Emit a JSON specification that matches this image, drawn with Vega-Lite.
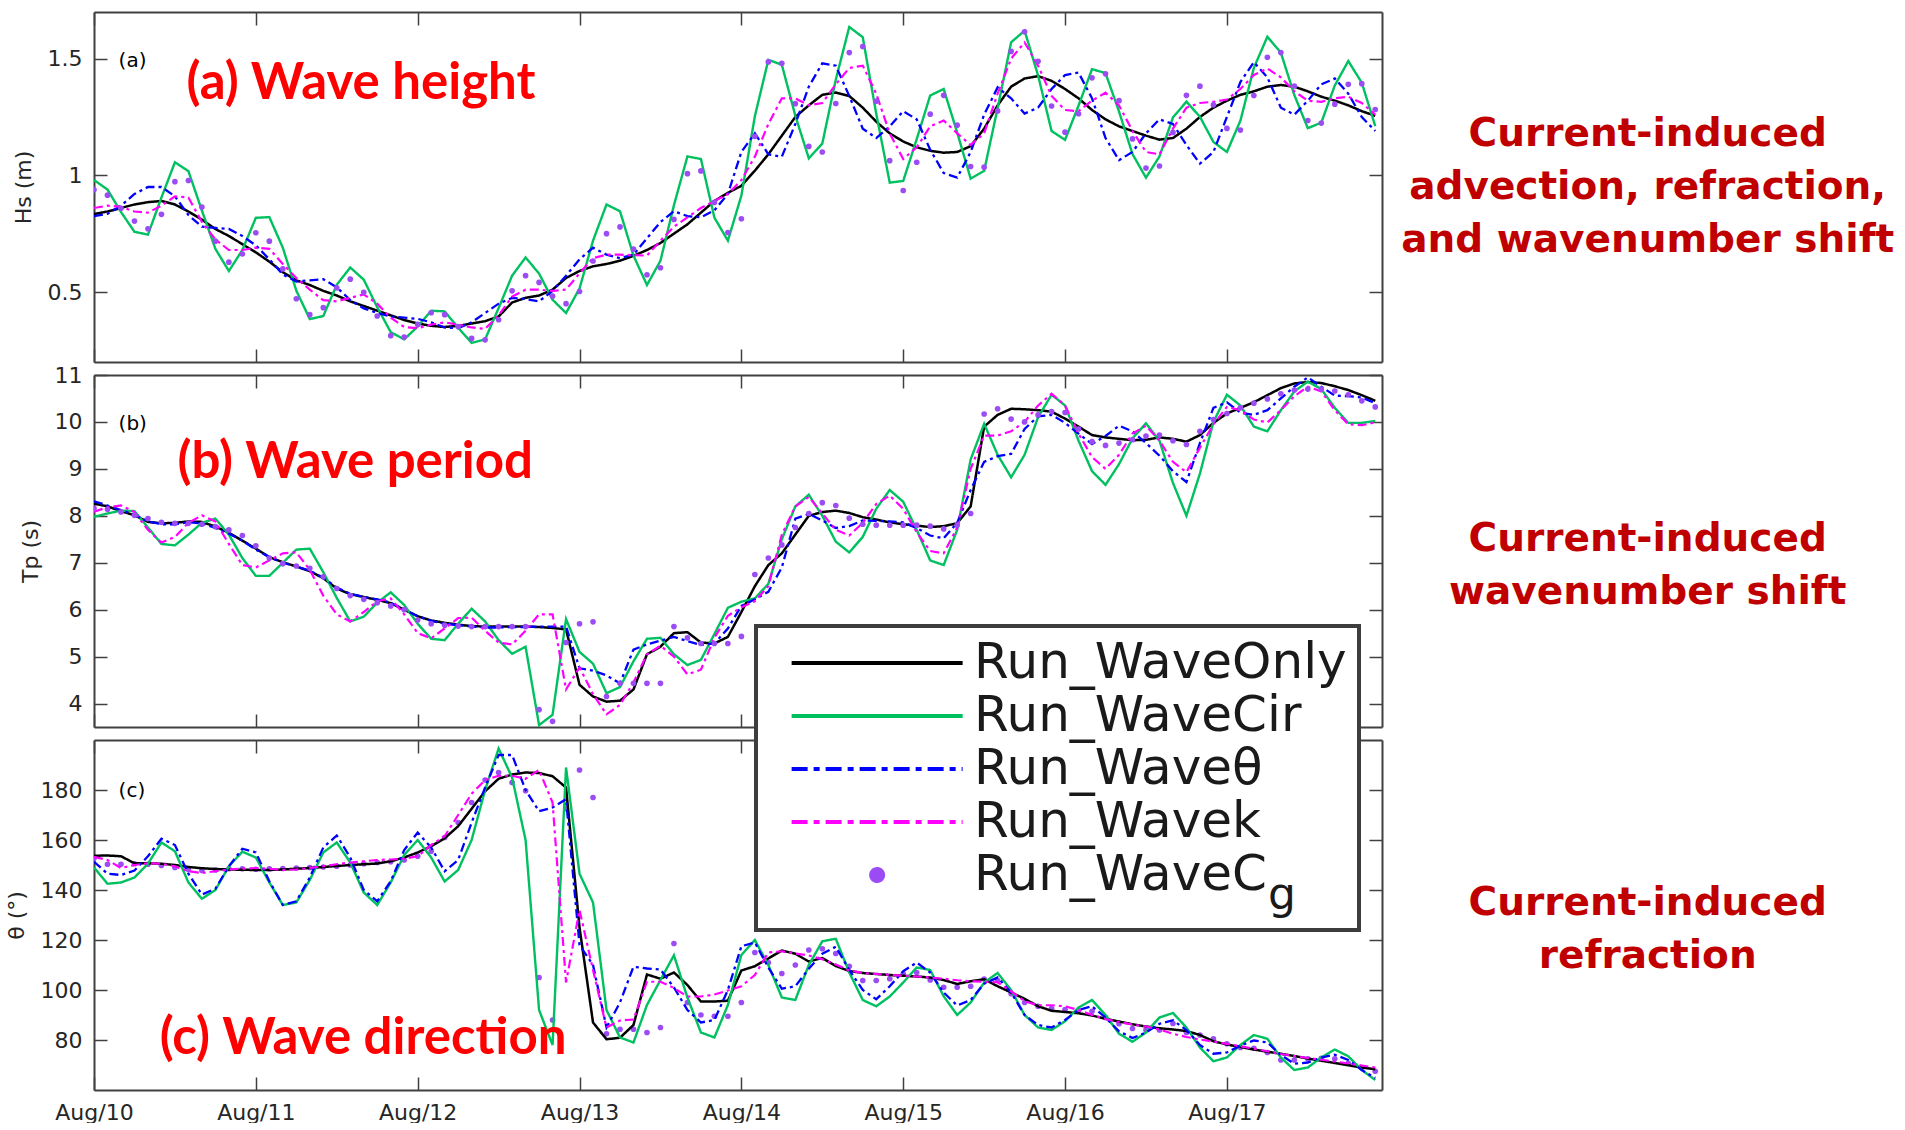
{
  "$schema": "https://vega.github.io/schema/vega-lite/v6.json",
  "background": "white",
  "autosize": {"type": "pad"},
  "padding": {"left": 5, "top": 11, "right": 0, "bottom": 0},
  "bounds": "flush",
  "spacing": 13,
  "config": {
    "view": {"stroke": null},
    "axis": {
      "domainColor": "#404040", "domainWidth": 2,
      "tickColor": "#404040", "tickWidth": 1.5, "tickSize": -13,
      "labelFont": "DejaVu Sans", "labelFontSize": 22, "labelColor": "#262626", "labelPadding": 25, "labelFlush": false,
      "titleFont": "DejaVu Sans", "titleFontSize": 22, "titleColor": "#262626", "titleFontWeight": "normal", "titlePadding": 12,
      "grid": false
    }
  },
  "resolve": {
    "scale": {"color": "independent", "strokeDash": "independent", "strokeWidth": "independent"},
    "legend": {"color": "independent", "strokeDash": "independent", "strokeWidth": "independent"}
  },
  "datasets": {
    "hs": [
      {"t":"2017-08-10T00:00","only":0.834,"cir":0.98,"theta":0.825,"k":0.86,"cg":0.938},
      {"t":"2017-08-10T02:00","only":0.845,"cir":0.939,"theta":0.835,"k":0.87,"cg":0.915},
      {"t":"2017-08-10T04:00","only":0.86,"cir":0.843,"theta":0.87,"k":0.865,"cg":0.859},
      {"t":"2017-08-10T06:00","only":0.875,"cir":0.758,"theta":0.92,"k":0.845,"cg":0.804},
      {"t":"2017-08-10T08:00","only":0.885,"cir":0.746,"theta":0.95,"k":0.84,"cg":0.771},
      {"t":"2017-08-10T10:00","only":0.89,"cir":0.905,"theta":0.95,"k":0.87,"cg":0.833},
      {"t":"2017-08-10T12:00","only":0.875,"cir":1.056,"theta":0.91,"k":0.91,"cg":0.973},
      {"t":"2017-08-10T14:00","only":0.845,"cir":1.018,"theta":0.83,"k":0.905,"cg":0.978},
      {"t":"2017-08-10T16:00","only":0.81,"cir":0.849,"theta":0.78,"k":0.8,"cg":0.864},
      {"t":"2017-08-10T18:00","only":0.77,"cir":0.685,"theta":0.775,"k":0.725,"cg":0.718},
      {"t":"2017-08-10T20:00","only":0.74,"cir":0.59,"theta":0.77,"k":0.68,"cg":0.628},
      {"t":"2017-08-10T22:00","only":0.705,"cir":0.68,"theta":0.74,"k":0.68,"cg":0.663},
      {"t":"2017-08-11T00:00","only":0.67,"cir":0.818,"theta":0.7,"k":0.69,"cg":0.754},
      {"t":"2017-08-11T02:00","only":0.63,"cir":0.821,"theta":0.64,"k":0.685,"cg":0.718},
      {"t":"2017-08-11T04:00","only":0.585,"cir":0.69,"theta":0.575,"k":0.62,"cg":0.599},
      {"t":"2017-08-11T06:00","only":0.55,"cir":0.506,"theta":0.545,"k":0.56,"cg":0.471},
      {"t":"2017-08-11T08:00","only":0.53,"cir":0.384,"theta":0.55,"k":0.51,"cg":0.403},
      {"t":"2017-08-11T10:00","only":0.505,"cir":0.397,"theta":0.555,"k":0.465,"cg":0.433},
      {"t":"2017-08-11T12:00","only":0.485,"cir":0.531,"theta":0.52,"k":0.46,"cg":0.518},
      {"t":"2017-08-11T14:00","only":0.46,"cir":0.605,"theta":0.465,"k":0.475,"cg":0.555},
      {"t":"2017-08-11T16:00","only":0.44,"cir":0.553,"theta":0.43,"k":0.49,"cg":0.499},
      {"t":"2017-08-11T18:00","only":0.42,"cir":0.435,"theta":0.41,"k":0.45,"cg":0.397},
      {"t":"2017-08-11T20:00","only":0.4,"cir":0.328,"theta":0.395,"k":0.39,"cg":0.313},
      {"t":"2017-08-11T22:00","only":0.38,"cir":0.297,"theta":0.39,"k":0.35,"cg":0.307},
      {"t":"2017-08-12T00:00","only":0.365,"cir":0.352,"theta":0.385,"k":0.345,"cg":0.361},
      {"t":"2017-08-12T02:00","only":0.355,"cir":0.42,"theta":0.37,"k":0.36,"cg":0.411},
      {"t":"2017-08-12T04:00","only":0.35,"cir":0.417,"theta":0.348,"k":0.37,"cg":0.403},
      {"t":"2017-08-12T06:00","only":0.355,"cir":0.347,"theta":0.345,"k":0.36,"cg":0.352},
      {"t":"2017-08-12T08:00","only":0.365,"cir":0.282,"theta":0.37,"k":0.348,"cg":0.301},
      {"t":"2017-08-12T10:00","only":0.375,"cir":0.297,"theta":0.41,"k":0.342,"cg":0.295},
      {"t":"2017-08-12T12:00","only":0.395,"cir":0.431,"theta":0.45,"k":0.4,"cg":0.381},
      {"t":"2017-08-12T14:00","only":0.455,"cir":0.57,"theta":0.475,"k":0.48,"cg":0.505},
      {"t":"2017-08-12T16:00","only":0.475,"cir":0.648,"theta":0.47,"k":0.51,"cg":0.57},
      {"t":"2017-08-12T18:00","only":0.485,"cir":0.579,"theta":0.46,"k":0.51,"cg":0.541},
      {"t":"2017-08-12T20:00","only":0.51,"cir":0.467,"theta":0.505,"k":0.505,"cg":0.482},
      {"t":"2017-08-12T22:00","only":0.56,"cir":0.41,"theta":0.57,"k":0.51,"cg":0.45},
      {"t":"2017-08-13T00:00","only":0.59,"cir":0.515,"theta":0.64,"k":0.58,"cg":0.502},
      {"t":"2017-08-13T02:00","only":0.61,"cir":0.72,"theta":0.69,"k":0.645,"cg":0.633},
      {"t":"2017-08-13T04:00","only":0.62,"cir":0.875,"theta":0.66,"k":0.66,"cg":0.75},
      {"t":"2017-08-13T06:00","only":0.634,"cir":0.846,"theta":0.645,"k":0.66,"cg":0.779},
      {"t":"2017-08-13T08:00","only":0.655,"cir":0.656,"theta":0.66,"k":0.658,"cg":0.684},
      {"t":"2017-08-13T10:00","only":0.68,"cir":0.53,"theta":0.73,"k":0.656,"cg":0.574},
      {"t":"2017-08-13T12:00","only":0.71,"cir":0.634,"theta":0.8,"k":0.72,"cg":0.604},
      {"t":"2017-08-13T14:00","only":0.75,"cir":0.872,"theta":0.846,"k":0.78,"cg":0.811},
      {"t":"2017-08-13T16:00","only":0.79,"cir":1.081,"theta":0.825,"k":0.82,"cg":1.007},
      {"t":"2017-08-13T18:00","only":0.84,"cir":1.07,"theta":0.82,"k":0.86,"cg":1.019},
      {"t":"2017-08-13T20:00","only":0.89,"cir":0.819,"theta":0.85,"k":0.89,"cg":0.884},
      {"t":"2017-08-13T22:00","only":0.925,"cir":0.72,"theta":0.92,"k":0.92,"cg":0.755},
      {"t":"2017-08-14T00:00","only":0.955,"cir":0.913,"theta":1.1,"k":0.98,"cg":0.814},
      {"t":"2017-08-14T02:00","only":1.02,"cir":1.253,"theta":1.18,"k":1.08,"cg":1.167},
      {"t":"2017-08-14T04:00","only":1.09,"cir":1.495,"theta":1.09,"k":1.22,"cg":1.486},
      {"t":"2017-08-14T06:00","only":1.17,"cir":1.474,"theta":1.08,"k":1.33,"cg":1.48},
      {"t":"2017-08-14T08:00","only":1.25,"cir":1.256,"theta":1.22,"k":1.33,"cg":1.307},
      {"t":"2017-08-14T10:00","only":1.3,"cir":1.073,"theta":1.38,"k":1.3,"cg":1.124},
      {"t":"2017-08-14T12:00","only":1.345,"cir":1.136,"theta":1.48,"k":1.31,"cg":1.1},
      {"t":"2017-08-14T14:00","only":1.355,"cir":1.41,"theta":1.47,"k":1.39,"cg":1.308},
      {"t":"2017-08-14T16:00","only":1.34,"cir":1.636,"theta":1.34,"k":1.46,"cg":1.526},
      {"t":"2017-08-14T18:00","only":1.29,"cir":1.592,"theta":1.2,"k":1.47,"cg":1.552},
      {"t":"2017-08-14T20:00","only":1.23,"cir":1.264,"theta":1.16,"k":1.35,"cg":1.318},
      {"t":"2017-08-14T22:00","only":1.18,"cir":0.969,"theta":1.21,"k":1.18,"cg":1.063},
      {"t":"2017-08-15T00:00","only":1.145,"cir":0.976,"theta":1.275,"k":1.07,"cg":0.935},
      {"t":"2017-08-15T02:00","only":1.12,"cir":1.155,"theta":1.24,"k":1.12,"cg":1.056},
      {"t":"2017-08-15T04:00","only":1.105,"cir":1.342,"theta":1.11,"k":1.21,"cg":1.262},
      {"t":"2017-08-15T06:00","only":1.097,"cir":1.37,"theta":1.01,"k":1.235,"cg":1.343},
      {"t":"2017-08-15T08:00","only":1.1,"cir":1.184,"theta":0.99,"k":1.18,"cg":1.215},
      {"t":"2017-08-15T10:00","only":1.125,"cir":0.986,"theta":1.1,"k":1.13,"cg":1.038},
      {"t":"2017-08-15T12:00","only":1.2,"cir":1.019,"theta":1.26,"k":1.18,"cg":1.035},
      {"t":"2017-08-15T14:00","only":1.3,"cir":1.288,"theta":1.377,"k":1.35,"cg":1.276},
      {"t":"2017-08-15T16:00","only":1.38,"cir":1.57,"theta":1.33,"k":1.5,"cg":1.531},
      {"t":"2017-08-15T18:00","only":1.415,"cir":1.62,"theta":1.265,"k":1.57,"cg":1.615},
      {"t":"2017-08-15T20:00","only":1.425,"cir":1.428,"theta":1.29,"k":1.47,"cg":1.489},
      {"t":"2017-08-15T22:00","only":1.405,"cir":1.19,"theta":1.37,"k":1.34,"cg":1.297},
      {"t":"2017-08-16T00:00","only":1.37,"cir":1.152,"theta":1.43,"k":1.28,"cg":1.185},
      {"t":"2017-08-16T02:00","only":1.33,"cir":1.299,"theta":1.44,"k":1.275,"cg":1.264},
      {"t":"2017-08-16T04:00","only":1.28,"cir":1.455,"theta":1.33,"k":1.32,"cg":1.418},
      {"t":"2017-08-16T06:00","only":1.24,"cir":1.438,"theta":1.16,"k":1.354,"cg":1.435},
      {"t":"2017-08-16T08:00","only":1.21,"cir":1.274,"theta":1.065,"k":1.3,"cg":1.32},
      {"t":"2017-08-16T10:00","only":1.19,"cir":1.091,"theta":1.1,"k":1.19,"cg":1.156},
      {"t":"2017-08-16T12:00","only":1.17,"cir":0.99,"theta":1.18,"k":1.1,"cg":1.031},
      {"t":"2017-08-16T14:00","only":1.153,"cir":1.081,"theta":1.24,"k":1.09,"cg":1.04},
      {"t":"2017-08-16T16:00","only":1.16,"cir":1.248,"theta":1.22,"k":1.2,"cg":1.184},
      {"t":"2017-08-16T18:00","only":1.2,"cir":1.316,"theta":1.13,"k":1.29,"cg":1.343},
      {"t":"2017-08-16T20:00","only":1.25,"cir":1.251,"theta":1.05,"k":1.31,"cg":1.382},
      {"t":"2017-08-16T22:00","only":1.29,"cir":1.143,"theta":1.1,"k":1.315,"cg":1.302},
      {"t":"2017-08-17T00:00","only":1.32,"cir":1.1,"theta":1.25,"k":1.325,"cg":1.201},
      {"t":"2017-08-17T02:00","only":1.345,"cir":1.234,"theta":1.4,"k":1.37,"cg":1.194},
      {"t":"2017-08-17T04:00","only":1.36,"cir":1.461,"theta":1.485,"k":1.43,"cg":1.342},
      {"t":"2017-08-17T06:00","only":1.38,"cir":1.594,"theta":1.42,"k":1.458,"cg":1.506},
      {"t":"2017-08-17T08:00","only":1.387,"cir":1.526,"theta":1.29,"k":1.42,"cg":1.526},
      {"t":"2017-08-17T10:00","only":1.38,"cir":1.344,"theta":1.26,"k":1.36,"cg":1.383},
      {"t":"2017-08-17T12:00","only":1.36,"cir":1.202,"theta":1.32,"k":1.32,"cg":1.235},
      {"t":"2017-08-17T14:00","only":1.337,"cir":1.226,"theta":1.39,"k":1.315,"cg":1.224},
      {"t":"2017-08-17T16:00","only":1.32,"cir":1.385,"theta":1.415,"k":1.33,"cg":1.305},
      {"t":"2017-08-17T18:00","only":1.3,"cir":1.49,"theta":1.35,"k":1.337,"cg":1.39},
      {"t":"2017-08-17T20:00","only":1.275,"cir":1.397,"theta":1.25,"k":1.31,"cg":1.393},
      {"t":"2017-08-17T22:00","only":1.255,"cir":1.211,"theta":1.19,"k":1.26,"cg":1.282}
    ],
    "tp": [
      {"t":"2017-08-10T00:00","only":8.26,"cir":7.98,"theta":8.31,"k":8.09,"cg":8.16},
      {"t":"2017-08-10T02:00","only":8.2,"cir":8.05,"theta":8.22,"k":8.18,"cg":8.14},
      {"t":"2017-08-10T04:00","only":8.1,"cir":8.11,"theta":8.12,"k":8.22,"cg":8.08},
      {"t":"2017-08-10T06:00","only":8.01,"cir":8.1,"theta":8.02,"k":8.08,"cg":8.01},
      {"t":"2017-08-10T08:00","only":7.87,"cir":7.75,"theta":7.88,"k":7.7,"cg":7.94},
      {"t":"2017-08-10T10:00","only":7.84,"cir":7.4,"theta":7.82,"k":7.43,"cg":7.86},
      {"t":"2017-08-10T12:00","only":7.85,"cir":7.37,"theta":7.82,"k":7.55,"cg":7.84},
      {"t":"2017-08-10T14:00","only":7.88,"cir":7.6,"theta":7.86,"k":7.85,"cg":7.84},
      {"t":"2017-08-10T16:00","only":7.87,"cir":7.85,"theta":7.84,"k":8.01,"cg":7.82},
      {"t":"2017-08-10T18:00","only":7.77,"cir":7.94,"theta":7.74,"k":7.88,"cg":7.77},
      {"t":"2017-08-10T20:00","only":7.64,"cir":7.6,"theta":7.62,"k":7.4,"cg":7.7},
      {"t":"2017-08-10T22:00","only":7.47,"cir":7.1,"theta":7.47,"k":6.95,"cg":7.58},
      {"t":"2017-08-11T00:00","only":7.3,"cir":6.72,"theta":7.28,"k":6.9,"cg":7.36},
      {"t":"2017-08-11T02:00","only":7.12,"cir":6.72,"theta":7.12,"k":7.05,"cg":7.1},
      {"t":"2017-08-11T04:00","only":7.01,"cir":7.0,"theta":7.0,"k":7.2,"cg":6.98},
      {"t":"2017-08-11T06:00","only":6.92,"cir":7.28,"theta":6.92,"k":7.22,"cg":6.93},
      {"t":"2017-08-11T08:00","only":6.82,"cir":7.3,"theta":6.83,"k":6.85,"cg":6.88},
      {"t":"2017-08-11T10:00","only":6.67,"cir":6.8,"theta":6.68,"k":6.3,"cg":6.7},
      {"t":"2017-08-11T12:00","only":6.45,"cir":6.25,"theta":6.47,"k":5.9,"cg":6.45},
      {"t":"2017-08-11T14:00","only":6.33,"cir":5.75,"theta":6.34,"k":5.75,"cg":6.3},
      {"t":"2017-08-11T16:00","only":6.27,"cir":5.85,"theta":6.27,"k":5.95,"cg":6.22},
      {"t":"2017-08-11T18:00","only":6.21,"cir":6.15,"theta":6.22,"k":6.18,"cg":6.15},
      {"t":"2017-08-11T20:00","only":6.14,"cir":6.37,"theta":6.15,"k":6.24,"cg":6.08},
      {"t":"2017-08-11T22:00","only":6.0,"cir":6.1,"theta":6.0,"k":5.9,"cg":6.0},
      {"t":"2017-08-12T00:00","only":5.86,"cir":5.7,"theta":5.86,"k":5.5,"cg":5.78},
      {"t":"2017-08-12T02:00","only":5.77,"cir":5.38,"theta":5.76,"k":5.39,"cg":5.7},
      {"t":"2017-08-12T04:00","only":5.72,"cir":5.35,"theta":5.7,"k":5.6,"cg":5.67},
      {"t":"2017-08-12T06:00","only":5.68,"cir":5.7,"theta":5.67,"k":5.82,"cg":5.65},
      {"t":"2017-08-12T08:00","only":5.65,"cir":6.02,"theta":5.64,"k":5.83,"cg":5.64},
      {"t":"2017-08-12T10:00","only":5.64,"cir":5.75,"theta":5.62,"k":5.55,"cg":5.64},
      {"t":"2017-08-12T12:00","only":5.64,"cir":5.35,"theta":5.62,"k":5.3,"cg":5.64},
      {"t":"2017-08-12T14:00","only":5.64,"cir":5.06,"theta":5.63,"k":5.26,"cg":5.64},
      {"t":"2017-08-12T16:00","only":5.64,"cir":5.21,"theta":5.63,"k":5.55,"cg":5.64},
      {"t":"2017-08-12T18:00","only":5.63,"cir":3.54,"theta":5.64,"k":5.9,"cg":3.87},
      {"t":"2017-08-12T20:00","only":5.61,"cir":3.76,"theta":5.64,"k":5.9,"cg":3.62},
      {"t":"2017-08-12T22:00","only":5.58,"cir":5.8,"theta":5.64,"k":4.3,"cg":5.3},
      {"t":"2017-08-13T00:00","only":4.4,"cir":5.1,"theta":4.75,"k":4.77,"cg":5.7},
      {"t":"2017-08-13T02:00","only":4.15,"cir":4.85,"theta":4.7,"k":4.2,"cg":5.74},
      {"t":"2017-08-13T04:00","only":4.04,"cir":4.22,"theta":4.6,"k":3.77,"cg":4.15},
      {"t":"2017-08-13T06:00","only":4.06,"cir":4.35,"theta":4.43,"k":3.97,"cg":4.43},
      {"t":"2017-08-13T08:00","only":4.3,"cir":4.9,"theta":5.15,"k":4.45,"cg":4.43},
      {"t":"2017-08-13T10:00","only":5.05,"cir":5.38,"theta":5.26,"k":5.05,"cg":4.43},
      {"t":"2017-08-13T12:00","only":5.21,"cir":5.4,"theta":5.34,"k":5.23,"cg":4.43},
      {"t":"2017-08-13T14:00","only":5.5,"cir":5.05,"theta":5.42,"k":5.0,"cg":5.64},
      {"t":"2017-08-13T16:00","only":5.52,"cir":4.82,"theta":5.33,"k":4.62,"cg":5.4},
      {"t":"2017-08-13T18:00","only":5.3,"cir":4.93,"theta":5.25,"k":4.72,"cg":5.28},
      {"t":"2017-08-13T20:00","only":5.28,"cir":5.48,"theta":5.28,"k":5.4,"cg":5.28},
      {"t":"2017-08-13T22:00","only":5.42,"cir":6.04,"theta":5.6,"k":5.87,"cg":5.28},
      {"t":"2017-08-14T00:00","only":5.95,"cir":6.17,"theta":6.08,"k":6.05,"cg":5.43},
      {"t":"2017-08-14T02:00","only":6.5,"cir":6.24,"theta":6.22,"k":6.18,"cg":6.75},
      {"t":"2017-08-14T04:00","only":6.95,"cir":6.55,"theta":6.38,"k":6.5,"cg":7.1},
      {"t":"2017-08-14T06:00","only":7.2,"cir":7.5,"theta":6.9,"k":7.6,"cg":7.38},
      {"t":"2017-08-14T08:00","only":7.6,"cir":8.2,"theta":7.94,"k":8.2,"cg":7.75},
      {"t":"2017-08-14T10:00","only":8.0,"cir":8.45,"theta":8.04,"k":8.4,"cg":8.05},
      {"t":"2017-08-14T12:00","only":8.08,"cir":8.0,"theta":7.9,"k":8.05,"cg":8.28},
      {"t":"2017-08-14T14:00","only":8.11,"cir":7.45,"theta":7.74,"k":7.7,"cg":8.22},
      {"t":"2017-08-14T16:00","only":8.06,"cir":7.22,"theta":7.78,"k":7.58,"cg":7.95},
      {"t":"2017-08-14T18:00","only":7.97,"cir":7.55,"theta":7.9,"k":7.85,"cg":7.82},
      {"t":"2017-08-14T20:00","only":7.92,"cir":8.15,"theta":7.89,"k":8.25,"cg":7.8},
      {"t":"2017-08-14T22:00","only":7.86,"cir":8.55,"theta":7.88,"k":8.43,"cg":7.8},
      {"t":"2017-08-15T00:00","only":7.82,"cir":8.3,"theta":7.86,"k":8.15,"cg":7.8},
      {"t":"2017-08-15T02:00","only":7.79,"cir":7.7,"theta":7.74,"k":7.65,"cg":7.8},
      {"t":"2017-08-15T04:00","only":7.76,"cir":7.05,"theta":7.58,"k":7.25,"cg":7.78},
      {"t":"2017-08-15T06:00","only":7.78,"cir":6.95,"theta":7.52,"k":7.2,"cg":7.72},
      {"t":"2017-08-15T08:00","only":7.84,"cir":7.7,"theta":7.85,"k":7.75,"cg":7.8},
      {"t":"2017-08-15T10:00","only":8.2,"cir":9.2,"theta":8.55,"k":9.0,"cg":8.05},
      {"t":"2017-08-15T12:00","only":9.9,"cir":9.96,"theta":9.15,"k":9.71,"cg":10.17},
      {"t":"2017-08-15T14:00","only":10.15,"cir":9.3,"theta":9.27,"k":9.71,"cg":10.28},
      {"t":"2017-08-15T16:00","only":10.28,"cir":8.82,"theta":9.32,"k":9.8,"cg":10.06},
      {"t":"2017-08-15T18:00","only":10.27,"cir":9.3,"theta":9.85,"k":10.0,"cg":10.0},
      {"t":"2017-08-15T20:00","only":10.25,"cir":10.1,"theta":10.12,"k":10.35,"cg":10.15},
      {"t":"2017-08-15T22:00","only":10.22,"cir":10.58,"theta":10.15,"k":10.6,"cg":10.22},
      {"t":"2017-08-16T00:00","only":10.07,"cir":10.35,"theta":9.98,"k":10.35,"cg":10.2},
      {"t":"2017-08-16T02:00","only":9.9,"cir":9.6,"theta":9.75,"k":9.75,"cg":9.85},
      {"t":"2017-08-16T04:00","only":9.72,"cir":8.95,"theta":9.53,"k":9.25,"cg":9.58},
      {"t":"2017-08-16T06:00","only":9.67,"cir":8.66,"theta":9.7,"k":9.0,"cg":9.5},
      {"t":"2017-08-16T08:00","only":9.64,"cir":9.1,"theta":9.92,"k":9.3,"cg":9.55},
      {"t":"2017-08-16T10:00","only":9.61,"cir":9.65,"theta":9.8,"k":9.75,"cg":9.62},
      {"t":"2017-08-16T12:00","only":9.62,"cir":9.97,"theta":9.55,"k":9.92,"cg":9.7},
      {"t":"2017-08-16T14:00","only":9.67,"cir":9.6,"theta":9.28,"k":9.6,"cg":9.72},
      {"t":"2017-08-16T16:00","only":9.64,"cir":8.7,"theta":8.95,"k":9.15,"cg":9.6},
      {"t":"2017-08-16T18:00","only":9.58,"cir":8.0,"theta":8.72,"k":8.93,"cg":9.52},
      {"t":"2017-08-16T20:00","only":9.72,"cir":8.9,"theta":9.55,"k":9.45,"cg":9.8},
      {"t":"2017-08-16T22:00","only":9.98,"cir":10.0,"theta":10.3,"k":9.95,"cg":10.05},
      {"t":"2017-08-17T00:00","only":10.18,"cir":10.58,"theta":10.42,"k":10.32,"cg":10.18},
      {"t":"2017-08-17T02:00","only":10.3,"cir":10.35,"theta":10.2,"k":10.25,"cg":10.3},
      {"t":"2017-08-17T04:00","only":10.42,"cir":9.9,"theta":10.15,"k":10.05,"cg":10.4},
      {"t":"2017-08-17T06:00","only":10.57,"cir":9.8,"theta":10.25,"k":9.99,"cg":10.49},
      {"t":"2017-08-17T08:00","only":10.72,"cir":10.25,"theta":10.5,"k":10.25,"cg":10.6},
      {"t":"2017-08-17T10:00","only":10.82,"cir":10.65,"theta":10.75,"k":10.55,"cg":10.68},
      {"t":"2017-08-17T12:00","only":10.85,"cir":10.86,"theta":10.95,"k":10.75,"cg":10.7},
      {"t":"2017-08-17T14:00","only":10.83,"cir":10.7,"theta":10.75,"k":10.65,"cg":10.7},
      {"t":"2017-08-17T16:00","only":10.76,"cir":10.3,"theta":10.56,"k":10.25,"cg":10.66},
      {"t":"2017-08-17T18:00","only":10.68,"cir":9.98,"theta":10.55,"k":9.95,"cg":10.58},
      {"t":"2017-08-17T20:00","only":10.57,"cir":9.98,"theta":10.52,"k":9.93,"cg":10.45},
      {"t":"2017-08-17T22:00","only":10.45,"cir":10.02,"theta":10.4,"k":9.99,"cg":10.32}
    ],
    "dir": [
      {"t":"2017-08-10T00:00","only":153.7,"cir":149,"theta":151.3,"k":153.3,"cg":152.7},
      {"t":"2017-08-10T02:00","only":153.8,"cir":142.5,"theta":146.5,"k":152.0,"cg":150.3},
      {"t":"2017-08-10T04:00","only":153.5,"cir":143.0,"theta":146.0,"k":148.8,"cg":150.3},
      {"t":"2017-08-10T06:00","only":150.7,"cir":145.0,"theta":147.8,"k":150.0,"cg":150.5},
      {"t":"2017-08-10T08:00","only":150.7,"cir":150.5,"theta":153.5,"k":150.7,"cg":150.3},
      {"t":"2017-08-10T10:00","only":150.5,"cir":159.0,"theta":160.5,"k":150.5,"cg":149.8},
      {"t":"2017-08-10T12:00","only":150.0,"cir":155.5,"theta":158.0,"k":149.5,"cg":149.0},
      {"t":"2017-08-10T14:00","only":149.2,"cir":143.0,"theta":146.5,"k":147.5,"cg":148.2},
      {"t":"2017-08-10T16:00","only":148.7,"cir":136.5,"theta":138.2,"k":146.8,"cg":147.8},
      {"t":"2017-08-10T18:00","only":148.4,"cir":140.0,"theta":140.5,"k":147.5,"cg":148.0},
      {"t":"2017-08-10T20:00","only":148.2,"cir":149.5,"theta":149.5,"k":148.2,"cg":148.5},
      {"t":"2017-08-10T22:00","only":148.1,"cir":155.3,"theta":156.5,"k":148.5,"cg":148.5},
      {"t":"2017-08-11T00:00","only":148.0,"cir":153.0,"theta":155.0,"k":148.8,"cg":148.3},
      {"t":"2017-08-11T02:00","only":148.0,"cir":143.0,"theta":143.5,"k":148.5,"cg":148.5},
      {"t":"2017-08-11T04:00","only":148.2,"cir":134.0,"theta":134.0,"k":148.0,"cg":148.6},
      {"t":"2017-08-11T06:00","only":148.5,"cir":135.0,"theta":135.5,"k":148.2,"cg":148.8},
      {"t":"2017-08-11T08:00","only":148.8,"cir":144.0,"theta":145.0,"k":148.8,"cg":149.0},
      {"t":"2017-08-11T10:00","only":149.2,"cir":155.0,"theta":157.0,"k":149.5,"cg":149.2},
      {"t":"2017-08-11T12:00","only":149.6,"cir":159.0,"theta":161.8,"k":150.3,"cg":149.5},
      {"t":"2017-08-11T14:00","only":150.0,"cir":151.0,"theta":153.0,"k":151.0,"cg":150.0},
      {"t":"2017-08-11T16:00","only":150.3,"cir":139.0,"theta":140.0,"k":151.5,"cg":150.5},
      {"t":"2017-08-11T18:00","only":150.6,"cir":134.0,"theta":135.5,"k":152.0,"cg":151.0},
      {"t":"2017-08-11T20:00","only":151.5,"cir":143.0,"theta":143.5,"k":152.2,"cg":151.3},
      {"t":"2017-08-11T22:00","only":153.0,"cir":154.0,"theta":156.0,"k":152.5,"cg":152.0},
      {"t":"2017-08-12T00:00","only":155.0,"cir":160.0,"theta":163.0,"k":153.5,"cg":153.5},
      {"t":"2017-08-12T02:00","only":157.5,"cir":153.0,"theta":157.0,"k":158.0,"cg":155.5},
      {"t":"2017-08-12T04:00","only":160.7,"cir":143.4,"theta":147.5,"k":161.5,"cg":161.0},
      {"t":"2017-08-12T06:00","only":165.5,"cir":148.0,"theta":152.0,"k":170.0,"cg":167.0},
      {"t":"2017-08-12T08:00","only":172.5,"cir":160.0,"theta":167.0,"k":178.5,"cg":175.0},
      {"t":"2017-08-12T10:00","only":179.5,"cir":180.0,"theta":181.0,"k":184.0,"cg":184.0},
      {"t":"2017-08-12T12:00","only":184.5,"cir":196.6,"theta":194.0,"k":185.7,"cg":187.0},
      {"t":"2017-08-12T14:00","only":186.2,"cir":185.0,"theta":194.0,"k":185.7,"cg":183.0},
      {"t":"2017-08-12T16:00","only":187.0,"cir":160.0,"theta":180.0,"k":184.5,"cg":179.7},
      {"t":"2017-08-12T18:00","only":186.8,"cir":92.0,"theta":171.5,"k":188.0,"cg":105.0},
      {"t":"2017-08-12T20:00","only":185.5,"cir":78.0,"theta":173.0,"k":175.0,"cg":88.0},
      {"t":"2017-08-12T22:00","only":181.0,"cir":189.0,"theta":176.3,"k":103.0,"cg":172.5},
      {"t":"2017-08-13T00:00","only":125.0,"cir":146.5,"theta":118.0,"k":132.0,"cg":188.0},
      {"t":"2017-08-13T02:00","only":87.0,"cir":135.0,"theta":110.0,"k":108.0,"cg":177.0},
      {"t":"2017-08-13T04:00","only":80.3,"cir":92.0,"theta":85.0,"k":85.0,"cg":82.5},
      {"t":"2017-08-13T06:00","only":80.9,"cir":81.0,"theta":95.0,"k":87.8,"cg":84.3},
      {"t":"2017-08-13T08:00","only":86.0,"cir":79.0,"theta":109.3,"k":88.2,"cg":84.3},
      {"t":"2017-08-13T10:00","only":106.2,"cir":94.0,"theta":108.6,"k":103.3,"cg":83.0},
      {"t":"2017-08-13T12:00","only":104.5,"cir":104.0,"theta":108.2,"k":103.3,"cg":85.0},
      {"t":"2017-08-13T14:00","only":107.0,"cir":113.9,"theta":101.0,"k":100.8,"cg":118.6},
      {"t":"2017-08-13T16:00","only":102.0,"cir":97.0,"theta":92.0,"k":97.4,"cg":95.0},
      {"t":"2017-08-13T18:00","only":95.4,"cir":83.0,"theta":87.0,"k":97.4,"cg":90.0},
      {"t":"2017-08-13T20:00","only":95.4,"cir":81.0,"theta":88.0,"k":98.2,"cg":89.5},
      {"t":"2017-08-13T22:00","only":95.7,"cir":94.0,"theta":100.0,"k":99.8,"cg":89.5},
      {"t":"2017-08-14T00:00","only":107.8,"cir":114.0,"theta":117.5,"k":101.5,"cg":95.0},
      {"t":"2017-08-14T02:00","only":109.5,"cir":120.0,"theta":119.0,"k":106.0,"cg":115.0},
      {"t":"2017-08-14T04:00","only":112.6,"cir":110.0,"theta":109.0,"k":115.0,"cg":111.0},
      {"t":"2017-08-14T06:00","only":115.8,"cir":97.0,"theta":100.5,"k":115.5,"cg":106.6},
      {"t":"2017-08-14T08:00","only":114.5,"cir":96.0,"theta":101.5,"k":114.6,"cg":110.0},
      {"t":"2017-08-14T10:00","only":111.4,"cir":110.0,"theta":108.5,"k":113.8,"cg":116.0},
      {"t":"2017-08-14T12:00","only":112.8,"cir":119.5,"theta":114.5,"k":112.3,"cg":116.5},
      {"t":"2017-08-14T14:00","only":109.6,"cir":120.5,"theta":117.3,"k":110.2,"cg":114.6},
      {"t":"2017-08-14T16:00","only":107.6,"cir":107.0,"theta":108.0,"k":107.8,"cg":109.5},
      {"t":"2017-08-14T18:00","only":106.8,"cir":96.0,"theta":100.0,"k":106.8,"cg":103.8},
      {"t":"2017-08-14T20:00","only":106.4,"cir":93.5,"theta":96.3,"k":106.4,"cg":103.8},
      {"t":"2017-08-14T22:00","only":106.0,"cir":97.4,"theta":101.5,"k":106.0,"cg":104.5},
      {"t":"2017-08-15T00:00","only":105.7,"cir":103.0,"theta":107.5,"k":105.7,"cg":106.5},
      {"t":"2017-08-15T02:00","only":105.4,"cir":109.0,"theta":111.0,"k":105.4,"cg":107.0},
      {"t":"2017-08-15T04:00","only":105.0,"cir":108.0,"theta":107.0,"k":105.0,"cg":104.0},
      {"t":"2017-08-15T06:00","only":104.0,"cir":97.5,"theta":99.0,"k":104.5,"cg":101.1},
      {"t":"2017-08-15T08:00","only":102.4,"cir":90.0,"theta":93.8,"k":103.9,"cg":101.1},
      {"t":"2017-08-15T10:00","only":103.5,"cir":95.0,"theta":96.0,"k":103.5,"cg":101.5},
      {"t":"2017-08-15T12:00","only":104.3,"cir":103.0,"theta":102.5,"k":103.3,"cg":104.4},
      {"t":"2017-08-15T14:00","only":101.5,"cir":106.8,"theta":105.0,"k":103.1,"cg":103.8},
      {"t":"2017-08-15T16:00","only":99.0,"cir":100.0,"theta":99.0,"k":99.5,"cg":98.5},
      {"t":"2017-08-15T18:00","only":96.5,"cir":90.0,"theta":90.0,"k":95.5,"cg":95.0},
      {"t":"2017-08-15T20:00","only":93.5,"cir":85.0,"theta":86.0,"k":93.9,"cg":93.5},
      {"t":"2017-08-15T22:00","only":91.7,"cir":84.0,"theta":85.0,"k":93.9,"cg":92.6},
      {"t":"2017-08-16T00:00","only":91.2,"cir":87.5,"theta":88.0,"k":93.5,"cg":92.2},
      {"t":"2017-08-16T02:00","only":90.7,"cir":93.0,"theta":92.0,"k":92.0,"cg":91.9},
      {"t":"2017-08-16T04:00","only":89.8,"cir":96.0,"theta":93.5,"k":90.0,"cg":91.5},
      {"t":"2017-08-16T06:00","only":88.5,"cir":90.0,"theta":89.0,"k":88.4,"cg":89.0},
      {"t":"2017-08-16T08:00","only":87.4,"cir":82.5,"theta":83.5,"k":87.2,"cg":86.5},
      {"t":"2017-08-16T10:00","only":86.3,"cir":79.3,"theta":80.8,"k":86.2,"cg":84.6},
      {"t":"2017-08-16T12:00","only":85.4,"cir":83.0,"theta":83.0,"k":85.4,"cg":84.0},
      {"t":"2017-08-16T14:00","only":84.7,"cir":89.0,"theta":86.5,"k":84.2,"cg":84.0},
      {"t":"2017-08-16T16:00","only":84.2,"cir":90.8,"theta":87.9,"k":82.5,"cg":86.6},
      {"t":"2017-08-16T18:00","only":83.6,"cir":85.0,"theta":84.0,"k":81.2,"cg":83.0},
      {"t":"2017-08-16T20:00","only":82.0,"cir":77.0,"theta":78.0,"k":80.2,"cg":82.0},
      {"t":"2017-08-16T22:00","only":79.5,"cir":71.5,"theta":74.5,"k":79.4,"cg":80.5},
      {"t":"2017-08-17T00:00","only":78.2,"cir":73.0,"theta":75.0,"k":78.4,"cg":78.5},
      {"t":"2017-08-17T02:00","only":77.2,"cir":78.0,"theta":77.8,"k":77.5,"cg":77.0},
      {"t":"2017-08-17T04:00","only":76.2,"cir":82.0,"theta":79.8,"k":76.5,"cg":76.7},
      {"t":"2017-08-17T06:00","only":75.3,"cir":80.5,"theta":79.0,"k":75.5,"cg":75.0},
      {"t":"2017-08-17T08:00","only":74.5,"cir":73.0,"theta":74.0,"k":74.4,"cg":72.0},
      {"t":"2017-08-17T10:00","only":73.6,"cir":68.0,"theta":70.5,"k":73.6,"cg":72.0},
      {"t":"2017-08-17T12:00","only":72.6,"cir":69.0,"theta":71.0,"k":72.8,"cg":72.5},
      {"t":"2017-08-17T14:00","only":71.7,"cir":73.0,"theta":73.0,"k":72.1,"cg":72.7},
      {"t":"2017-08-17T16:00","only":70.8,"cir":76.2,"theta":74.1,"k":71.4,"cg":72.5},
      {"t":"2017-08-17T18:00","only":69.9,"cir":73.5,"theta":72.0,"k":70.6,"cg":70.7},
      {"t":"2017-08-17T20:00","only":69.0,"cir":68.0,"theta":68.0,"k":69.8,"cg":69.0},
      {"t":"2017-08-17T22:00","only":68.3,"cir":64.0,"theta":64.8,"k":69.0,"cg":67.5}
    ]
  },
  "vconcat": [
    {
      "width": 1288, "height": 350,
      "resolve": {"axis": {"x": "independent", "y": "independent"}},
      "layer": [
        {
          "data": {"name": "hs"},
          "transform": [{"fold": ["only", "cir", "theta", "k"], "as": ["series", "v"]}],
          "mark": {"type": "line", "clip": true},
          "encoding": {
            "x": {"field": "t", "type": "temporal", "scale": {"domain": [{"year": 2017, "month": 8, "date": 10}, {"year": 2017, "month": 8, "date": 17, "hours": 23}]}, "axis": {"orient": "bottom", "labels": false, "title": null, "tickCount": {"interval": "day", "step": 1}}},
            "y": {"field": "v", "type": "quantitative", "scale": {"domain": [0.2, 1.7], "nice": false, "zero": false}, "axis": {"orient": "left", "title": "Hs (m)", "values": [0.5, 1, 1.5], "format": "~g"}},
            "color": {"field": "series", "type": "nominal", "scale": {"domain": ["only", "cir", "theta", "k"], "range": ["#000000", "#00c060", "#0000ff", "#ff00ff"]}, "legend": null},
            "strokeDash": {"field": "series", "type": "nominal", "scale": {"domain": ["only", "cir", "theta", "k"], "range": [[1, 0], [1, 0], [9, 4, 3, 4], [9, 4, 3, 4]]}, "legend": null},
            "strokeWidth": {"field": "series", "type": "nominal", "scale": {"domain": ["only", "cir", "theta", "k"], "range": [2.5, 2.2, 2.2, 2.2]}, "legend": null}
          }
        },
        {
          "data": {"name": "hs"},
          "mark": {"type": "point", "filled": true, "size": 32, "color": "#9b4cf5", "opacity": 1, "clip": true},
          "encoding": {
            "x": {"field": "t", "type": "temporal", "scale": {"domain": [{"year": 2017, "month": 8, "date": 10}, {"year": 2017, "month": 8, "date": 17, "hours": 23}]}, "axis": {"orient": "top", "labels": false, "title": null, "tickCount": {"interval": "day", "step": 1}}},
            "y": {"field": "cg", "type": "quantitative", "scale": {"domain": [0.2, 1.7], "nice": false, "zero": false}, "axis": {"orient": "right", "labels": false, "title": null, "values": [0.5, 1, 1.5]}}
          }
        },
        {
          "data": {"values": [{}]},
          "mark": {"type": "text", "text": "(a) Wave height", "font": "Lato", "fontWeight": "bold", "fontSize": 51, "color": "#ff0000", "align": "left", "baseline": "alphabetic"},
          "encoding": {
            "x": {"datum": {"year": 2017, "month": 8, "date": 10, "hours": 13, "minutes": 44}, "type": "temporal", "axis": null},
            "y": {"datum": 1.327, "type": "quantitative", "axis": null}
          }
        },
        {
          "data": {"values": [{}]},
          "mark": {"type": "text", "text": "(a)", "font": "DejaVu Sans", "fontSize": 20, "color": "#000000", "align": "left", "baseline": "alphabetic"},
          "encoding": {
            "x": {"datum": {"year": 2017, "month": 8, "date": 10, "hours": 3, "minutes": 39}, "type": "temporal", "axis": null},
            "y": {"datum": 1.466, "type": "quantitative", "axis": null}
          }
        },
        {
          "data": {"values": [{}]},
          "mark": {"type": "text", "text": ["Current-induced", "advection, refraction,", "and wavenumber shift"], "font": "DejaVu Sans", "fontWeight": "bold", "fontSize": 39, "lineHeight": 53, "color": "#c00000", "align": "center", "baseline": "middle"},
          "encoding": {
            "x": {"datum": {"year": 2017, "month": 8, "date": 19, "hours": 14, "minutes": 24}, "type": "temporal", "axis": null},
            "y": {"datum": 1.177, "type": "quantitative", "axis": null}
          }
        }
      ]
    },
    {
      "width": 1288, "height": 352,
      "resolve": {"axis": {"x": "independent", "y": "independent"}},
      "layer": [
        {
          "data": {"name": "tp"},
          "transform": [{"fold": ["only", "cir", "theta", "k"], "as": ["series", "v"]}],
          "mark": {"type": "line", "clip": true},
          "encoding": {
            "x": {"field": "t", "type": "temporal", "scale": {"domain": [{"year": 2017, "month": 8, "date": 10}, {"year": 2017, "month": 8, "date": 17, "hours": 23}]}, "axis": {"orient": "bottom", "labels": false, "title": null, "tickCount": {"interval": "day", "step": 1}}},
            "y": {"field": "v", "type": "quantitative", "scale": {"domain": [3.5, 11], "nice": false, "zero": false}, "axis": {"orient": "left", "title": "Tp (s)", "values": [4, 5, 6, 7, 8, 9, 10, 11]}},
            "color": {"field": "series", "type": "nominal", "scale": {"domain": ["only", "cir", "theta", "k"], "range": ["#000000", "#00c060", "#0000ff", "#ff00ff"]}, "legend": null},
            "strokeDash": {"field": "series", "type": "nominal", "scale": {"domain": ["only", "cir", "theta", "k"], "range": [[1, 0], [1, 0], [9, 4, 3, 4], [9, 4, 3, 4]]}, "legend": null},
            "strokeWidth": {"field": "series", "type": "nominal", "scale": {"domain": ["only", "cir", "theta", "k"], "range": [2.5, 2.2, 2.2, 2.2]}, "legend": null}
          }
        },
        {
          "data": {"name": "tp"},
          "mark": {"type": "point", "filled": true, "size": 32, "color": "#9b4cf5", "opacity": 1, "clip": true},
          "encoding": {
            "x": {"field": "t", "type": "temporal", "scale": {"domain": [{"year": 2017, "month": 8, "date": 10}, {"year": 2017, "month": 8, "date": 17, "hours": 23}]}, "axis": {"orient": "top", "labels": false, "title": null, "tickCount": {"interval": "day", "step": 1}}},
            "y": {"field": "cg", "type": "quantitative", "scale": {"domain": [3.5, 11], "nice": false, "zero": false}, "axis": {"orient": "right", "labels": false, "title": null, "values": [4, 5, 6, 7, 8, 9, 10, 11]}}
          }
        },
        {
          "data": {"values": [{}]},
          "mark": {"type": "text", "text": "(b) Wave period", "font": "Lato", "fontWeight": "bold", "fontSize": 51, "color": "#ff0000", "align": "left", "baseline": "alphabetic"},
          "encoding": {
            "x": {"datum": {"year": 2017, "month": 8, "date": 10, "hours": 12, "minutes": 24}, "type": "temporal", "axis": null},
            "y": {"datum": 8.805, "type": "quantitative", "axis": null}
          }
        },
        {
          "data": {"values": [{}]},
          "mark": {"type": "text", "text": "(b)", "font": "DejaVu Sans", "fontSize": 20, "color": "#000000", "align": "left", "baseline": "alphabetic"},
          "encoding": {
            "x": {"datum": {"year": 2017, "month": 8, "date": 10, "hours": 3, "minutes": 39}, "type": "temporal", "axis": null},
            "y": {"datum": 9.834, "type": "quantitative", "axis": null}
          }
        },
        {
          "data": {"values": [{}]},
          "mark": {"type": "text", "text": ["Current-induced", "wavenumber shift"], "font": "DejaVu Sans", "fontWeight": "bold", "fontSize": 39, "lineHeight": 53, "color": "#c00000", "align": "center", "baseline": "middle"},
          "encoding": {
            "x": {"datum": {"year": 2017, "month": 8, "date": 19, "hours": 14, "minutes": 24}, "type": "temporal", "axis": null},
            "y": {"datum": 7.514, "type": "quantitative", "axis": null}
          }
        }
      ]
    },
    {
      "width": 1288, "height": 350,
      "resolve": {"axis": {"x": "independent", "y": "independent"}},
      "layer": [
        {
          "data": {"name": "dir"},
          "mark": {"type": "point", "filled": true, "size": 32, "color": "#9b4cf5", "opacity": 1, "clip": true},
          "encoding": {
            "x": {"field": "t", "type": "temporal", "scale": {"domain": [{"year": 2017, "month": 8, "date": 10}, {"year": 2017, "month": 8, "date": 17, "hours": 23}]}, "axis": {"orient": "top", "labels": false, "title": null, "tickCount": {"interval": "day", "step": 1}}},
            "y": {"field": "cg", "type": "quantitative", "scale": {"domain": [60, 200], "nice": false, "zero": false}, "axis": {"orient": "right", "labels": false, "title": null, "values": [80, 100, 120, 140, 160, 180]}}
          }
        },
        {
          "data": {"name": "dir"},
          "transform": [{"fold": ["only", "cir", "theta", "k"], "as": ["series", "v"]}],
          "mark": {"type": "line", "clip": true},
          "encoding": {
            "x": {"field": "t", "type": "temporal", "scale": {"domain": [{"year": 2017, "month": 8, "date": 10}, {"year": 2017, "month": 8, "date": 17, "hours": 23}]}, "axis": {"orient": "bottom", "title": null, "format": "%b/%d", "tickCount": {"interval": "day", "step": 1}}},
            "y": {"field": "v", "type": "quantitative", "scale": {"domain": [60, 200], "nice": false, "zero": false}, "axis": {"orient": "left", "title": "θ (°)", "values": [80, 100, 120, 140, 160, 180]}},
            "color": {
              "field": "series", "type": "nominal",
              "scale": {"domain": ["only", "cir", "theta", "k", "cg"], "range": ["#000000", "#00c060", "#0000ff", "#ff00ff", "#9b4cf5"]},
              "legend": {
                "orient": "none", "legendX": 662, "legendY": -114,
                "title": "g", "titleOrient": "bottom", "titleAnchor": "end", "titleAlign": "right",
                "titleFont": "DejaVu Sans", "titleFontSize": 44, "titleFontWeight": "normal", "titleColor": "#1a1a1a", "titlePadding": -26,
                "fillColor": "white", "strokeColor": "#3d3d3d",
                "padding": 12, "symbolOffset": 20, "symbolSize": 1828, "symbolStrokeWidth": 4,
                "labelFont": "DejaVu Sans", "labelFontSize": 50, "labelColor": "#1a1a1a", "labelLimit": 0,
                "labelOffset": 136, "rowPadding": 3,
                "labelExpr": "datum.value == 'only' ? 'Run_WaveOnly' : datum.value == 'cir' ? 'Run_WaveCir' : datum.value == 'theta' ? 'Run_Waveθ' : datum.value == 'k' ? 'Run_Wavek' : 'Run_WaveC'",
                "encode": {
                  "legend": {"update": {"strokeWidth": {"value": 4}}},
                  "title": {"update": {"dx": {"value": -51}}},
                  "symbols": {"update": {
                    "shape": {"signal": "datum.value == 'cg' ? 'M3.28,0A0.28,0.28,0,1,1,2.72,0A0.28,0.28,0,1,1,3.28,0Z' : 'M-1,0H7'"},
                    "fill": {"signal": "datum.value == 'cg' ? '#9b4cf5' : 'transparent'"},
                    "stroke": {"signal": "datum.value == 'only' ? '#000000' : datum.value == 'cir' ? '#00c060' : datum.value == 'theta' ? '#0000ff' : datum.value == 'k' ? '#ff00ff' : 'transparent'"},
                    "strokeDash": {"signal": "(datum.value == 'theta' || datum.value == 'k') ? [16, 6, 6, 6] : [1, 0]"},
                    "strokeWidth": {"value": 4},
                    "opacity": {"value": 1}
                  }}
                }
              }
            },
            "strokeDash": {"field": "series", "type": "nominal", "scale": {"domain": ["only", "cir", "theta", "k"], "range": [[1, 0], [1, 0], [9, 4, 3, 4], [9, 4, 3, 4]]}, "legend": null},
            "strokeWidth": {"field": "series", "type": "nominal", "scale": {"domain": ["only", "cir", "theta", "k"], "range": [2.5, 2.2, 2.2, 2.2]}, "legend": null}
          }
        },
        {
          "data": {"values": [{}]},
          "mark": {"type": "text", "text": "(c) Wave direction", "font": "Lato", "fontWeight": "bold", "fontSize": 51, "color": "#ff0000", "align": "left", "baseline": "alphabetic"},
          "encoding": {
            "x": {"datum": {"year": 2017, "month": 8, "date": 10, "hours": 9, "minutes": 46}, "type": "temporal", "axis": null},
            "y": {"datum": 74.4, "type": "quantitative", "axis": null}
          }
        },
        {
          "data": {"values": [{}]},
          "mark": {"type": "text", "text": "(c)", "font": "DejaVu Sans", "fontSize": 20, "color": "#000000", "align": "left", "baseline": "alphabetic"},
          "encoding": {
            "x": {"datum": {"year": 2017, "month": 8, "date": 10, "hours": 3, "minutes": 39}, "type": "temporal", "axis": null},
            "y": {"datum": 177.1, "type": "quantitative", "axis": null}
          }
        },
        {
          "data": {"values": [{}]},
          "mark": {"type": "text", "text": ["Current-induced", "refraction"], "font": "DejaVu Sans", "fontWeight": "bold", "fontSize": 39, "lineHeight": 53, "color": "#c00000", "align": "center", "baseline": "middle"},
          "encoding": {
            "x": {"datum": {"year": 2017, "month": 8, "date": 19, "hours": 14, "minutes": 24}, "type": "temporal", "axis": null},
            "y": {"datum": 134.8, "type": "quantitative", "axis": null}
          }
        }
      ]
    }
  ]
}
